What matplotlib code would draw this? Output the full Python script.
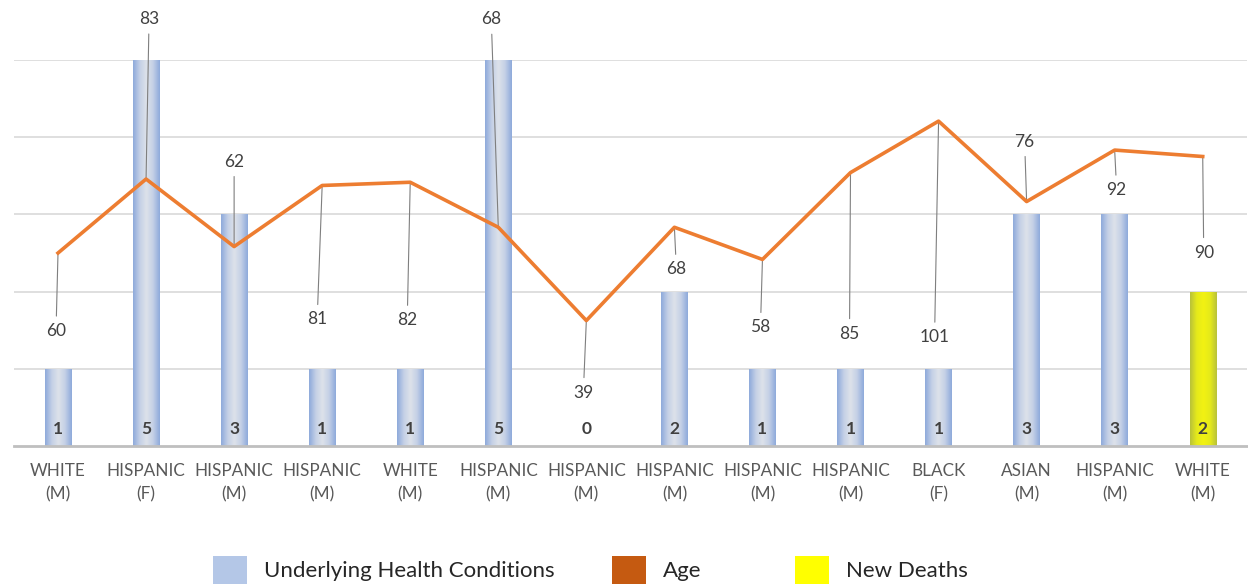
"""
Underlying health conditions vs. age of new deaths
Gradient bars (conditions) with an age line on a secondary axis
"""
import numpy as np
import matplotlib
matplotlib.use("Agg")
import matplotlib.pyplot as plt
from matplotlib.colors import LinearSegmentedColormap
from matplotlib.patches import Patch

plt.rcParams['font.family'] = ['Lato', 'DejaVu Sans']

# data
groups = ['WHITE', 'HISPANIC', 'HISPANIC', 'HISPANIC', 'WHITE', 'HISPANIC', 'HISPANIC',
          'HISPANIC', 'HISPANIC', 'HISPANIC', 'BLACK', 'ASIAN', 'HISPANIC', 'WHITE']
sexes = ['M', 'F', 'M', 'M', 'M', 'M', 'M', 'M', 'M', 'M', 'F', 'M', 'M', 'M']
conditions = [1, 5, 3, 1, 1, 5, 0, 2, 1, 1, 1, 3, 3, 2]
ages = [60, 83, 62, 81, 82, 68, 39, 68, 58, 85, 101, 76, 92, 90]
new_death_flag = [False] * 13 + [True]

# label offsets (pixels, right/up) for the age labels
label_offsets = [(-2, -78), (3, 160), (0, 85), (-5, -134), (-3, -138), (-7, 208), (-3, -72),
                 (2, -42), (-2, -68), (-1, -161), (-4, -216), (-2, 60), (2, -40), (1, -96)]

legend_names = ['Underlying Health Conditions', 'Age', 'New Deaths']
legend_colors = ['#b4c7e7', '#c55a11', '#ffff00']

labels = [f"{g}\n({s})" for g, s in zip(groups, sexes)]
x = np.arange(len(conditions))

blue_cmap = LinearSegmentedColormap.from_list(
    'blue_grad', ['#8eaadb', '#c4d0e6', '#dde2ea', '#c4d0e6', '#8eaadb'])
yellow_cmap = LinearSegmentedColormap.from_list(
    'yellow_grad', ['#b9c23a', '#e6ea1a', '#f2f212', '#e6ea1a', '#b9c23a'])
grad = np.linspace(0, 1, 64).reshape(1, -1)

fig = plt.figure(figsize=(12.48, 5.85), dpi=100)
ax = fig.add_axes([0.0112, 0.2376, 0.9878, 0.6598])

bars = ax.bar(x, conditions, width=0.3, color='none', edgecolor='none', zorder=2)
for rect, is_new in zip(bars, new_death_flag):
    h = rect.get_height()
    if h <= 0:
        continue
    x0 = rect.get_x()
    im = ax.imshow(grad, cmap=yellow_cmap if is_new else blue_cmap, aspect='auto',
                   extent=(x0, x0 + rect.get_width(), 0, h), zorder=2, interpolation='bicubic')
    im.set_clip_path(rect)

for xi, v in zip(x, conditions):
    ax.text(xi, 0.22, str(v), ha='center', va='center', fontsize=12.5,
            fontweight='bold', color='#404040', zorder=3)

# age on secondary axis
ax2 = ax.twinx()
ax2.plot(x, ages, color='#ed7d31', linewidth=2.6, zorder=4)
ax2.set_ylim(0, 120)
ax2.set_xlim(-0.5, len(x) - 0.5)
ax2.axis('off')
for xi, a, (dx, dy) in zip(x, ages, label_offsets):
    ax2.annotate(str(a), xy=(xi, a), xytext=(dx * 0.72, dy * 0.72),
                 textcoords='offset points', ha='center', va='center',
                 fontsize=12.5, color='#404040', annotation_clip=False,
                 arrowprops=dict(arrowstyle='-', color='#7f7f7f', lw=0.8,
                                 shrinkA=3, shrinkB=0))

ax.set_xlim(-0.5, len(x) - 0.5)
ax.set_ylim(0, 5)
ax.set_yticks(range(1, 6))
ax.yaxis.grid(True, color='#d9d9d9', linewidth=1.2, zorder=0)
ax.set_axisbelow(True)
ax.tick_params(axis='y', left=False, right=False, labelleft=False, labelright=False)
ax.set_xticks(x)
ax.set_xticklabels(labels, fontsize=12.3, color='#595959', linespacing=1.55)
ax.tick_params(axis='x', length=0, pad=12)
for side in ['top', 'left', 'right']:
    ax.spines[side].set_visible(False)
ax.spines['bottom'].set_color('#bfbfbf')
ax.spines['bottom'].set_linewidth(2)

# legend entries placed one by one (Excel spaces them unevenly)
for name, col, lx in zip(legend_names, legend_colors, [0.1707, 0.4904, 0.637]):
    leg = fig.legend([Patch(facecolor=col, edgecolor='none')], [name],
                     loc='center left', bbox_to_anchor=(lx, 0.026), frameon=False,
                     fontsize=16, handlelength=1.55, handleheight=1.55,
                     handletextpad=0.75, borderpad=0, borderaxespad=0,
                     labelcolor='#262626')

fig.savefig('out.png', dpi=100)
